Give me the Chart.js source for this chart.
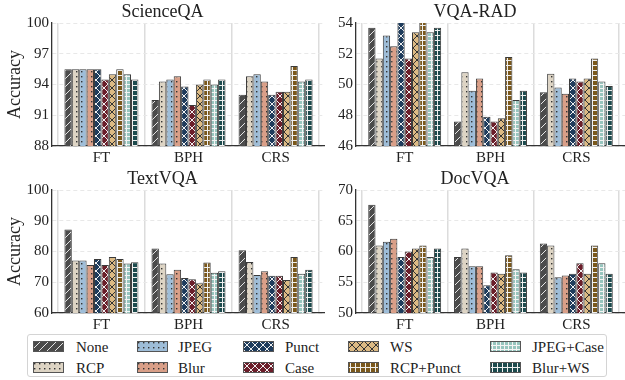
<!DOCTYPE html>
<html>
<head>
<meta charset="utf-8">
<script src="https://cdn.jsdelivr.net/npm/chart.js@4.4.1/dist/chart.umd.min.js"></script>
<style>
  body { margin: 0; background: #fff; width: 625px; height: 380px; overflow: hidden; position: relative; font-family: 'Liberation Serif', serif; }
  canvas.panel { position: absolute; }
  #legend { position: absolute; left: 27px; top: 334px; width: 580px; height: 43px; border: 1px solid #d4d4d4; border-radius: 3px; box-sizing: border-box; background: #fff; }
  .lab { position: absolute; font-family: 'Liberation Serif', serif; font-size: 15px; line-height: 16px; color: #222; white-space: nowrap; }
  .sw { position: absolute; }
</style>
</head>
<body>
<canvas id="c0" class="panel" width="325" height="165" style="left:0;top:0"></canvas>
<canvas id="c1" class="panel" width="300" height="165" style="left:325px;top:0"></canvas>
<canvas id="c2" class="panel" width="325" height="165" style="left:0;top:167px"></canvas>
<canvas id="c3" class="panel" width="300" height="165" style="left:325px;top:167px"></canvas>
<div id="legend"></div>
<script>
"use strict";

// kategorier och serier
const categories = ['FT', 'BPH', 'CRS'];
const series = ['None', 'RCP', 'JPEG', 'Blur', 'Punct', 'Case', 'WS', 'RCP+Punct', 'JPEG+Case', 'Blur+WS'];

// ScienceQA
const scienceFT  = [95.5, 95.5, 95.5, 95.5, 95.5, 94.5, 95.0, 95.5, 95.0, 94.5];
const scienceBPH = [92.5, 94.3, 94.5, 94.8, 93.8, 92.0, 94.0, 94.5, 94.0, 94.5];
const scienceCRS = [93.0, 94.8, 95.0, 94.3, 93.0, 93.3, 93.3, 95.8, 94.3, 94.5];
const scienceTicks = [88, 91, 94, 97, 100];

// VQA-RAD
const radFT  = [53.7, 51.7, 53.2, 52.5, 54.2, 51.7, 53.4, 54.2, 53.4, 53.7];
const radBPH = [47.6, 50.8, 49.6, 50.4, 47.9, 47.6, 47.8, 51.8, 49.0, 49.6];
const radCRS = [49.5, 50.7, 49.8, 49.4, 50.4, 50.2, 50.4, 51.7, 50.2, 49.9];
const radTicks = [46, 48, 50, 52, 54];

// TextVQA
const textFT  = [87.2, 77.1, 77.1, 75.6, 77.6, 75.6, 78.2, 77.6, 76.1, 76.5];
const textBPH = [81.0, 76.1, 72.6, 74.1, 71.4, 71.0, 69.7, 76.4, 73.1, 73.6];
const textCRS = [80.4, 76.6, 72.4, 73.6, 72.1, 72.1, 70.7, 78.2, 72.8, 74.1];
const textTicks = [60, 70, 80, 90, 100];

// DocVQA
const docFT  = [67.6, 61.0, 61.6, 62.1, 59.1, 60.0, 60.5, 61.0, 59.1, 60.5];
const docBPH = [59.1, 60.5, 57.6, 57.6, 54.5, 56.6, 56.4, 59.4, 57.1, 56.6];
const docCRS = [61.3, 61.0, 55.8, 56.1, 56.4, 58.1, 56.4, 61.0, 58.1, 56.4];
const docTicks = [50, 55, 60, 65, 70];

// färger och mönster per serie
const colors = ['#4b4b4b', '#ddd4c4', '#9ebdd8', '#d99f88', '#1f3c5c', '#6b1e2a', '#dcba84', '#7a581c', '#97c5be', '#1c4a4d'];
const hatches = ['diag', 'dots', 'dots', 'dots', 'cross', 'cross', 'cross', 'plus', 'grid', 'plus'];
const inks = ['#e6e6e6', '#333', '#333', '#333', '#f0f0f0', '#f0f0f0', '#333', '#f0f0f0', '#f4f4f4', '#f0f0f0'];

const FONT = 'Liberation Serif';
Chart.defaults.font.family = FONT;
Chart.defaults.color = '#222';

function makePattern(bg, kind, fg) {
    const sizes = { diag: 8, dots: 5, cross: 8, plus: 5, grid: 4 };
    const sz = sizes[kind];
    const c = document.createElement('canvas');
    c.width = sz;
    c.height = sz;
    const g = c.getContext('2d');
    g.fillStyle = bg;
    g.fillRect(0, 0, sz, sz);
    g.strokeStyle = fg;
    g.fillStyle = fg;
    g.lineWidth = 1;
    g.beginPath();
    if (kind === 'diag' || kind === 'cross') {
        g.moveTo(-1, sz + 1); g.lineTo(sz + 1, -1);
        if (kind === 'cross') {
            g.moveTo(-1, -1); g.lineTo(sz + 1, sz + 1);
        }
        g.stroke();
    } else if (kind === 'dots') {
        g.fillRect(1, 1, 1.4, 1.4);
    } else {
        g.moveTo(0, 0.5); g.lineTo(sz, 0.5);
        g.moveTo(2.5, 0); g.lineTo(2.5, sz);
        g.stroke();
    }
    return g.createPattern(c, 'repeat');
}

const patterns = series.map((s, i) => makePattern(colors[i], hatches[i], inks[i]));

function makeChart(id, title, rows, ticks, yWidth, showTitle) {
    const datasets = series.map((name, s) => ({
        label: name,
        data: rows.map((r, i) => ({ x: i, y: r[s] })),
        backgroundColor: patterns[s],
        borderColor: '#3a3a3a',
        borderWidth: 1,
        barPercentage: 1,
        categoryPercentage: 0.85,
        clip: 0
    }));

    new Chart(document.getElementById(id), {
        type: 'bar',
        data: { datasets: datasets },
        options: {
            responsive: false,
            animation: false,
            layout: { padding: 0 },
            plugins: {
                legend: { display: false },
                tooltip: { enabled: false },
                title: {
                    display: true,
                    text: title,
                    font: { family: FONT, size: 18, weight: 'normal' },
                    color: '#222',
                    padding: { top: 1.5, bottom: 0 }
                }
            },
            scales: {
                x: {
                    type: 'linear',
                    min: -0.5675,
                    max: 2.5675,
                    offset: false,
                    afterBuildTicks: sc => { sc.ticks = categories.map((c, i) => ({ value: i })); },
                    afterFit: sc => { sc.height = 19; },
                    ticks: {
                        callback: v => categories[v],
                        font: { family: FONT, size: 15 },
                        color: '#222',
                        padding: 3,
                        maxRotation: 0
                    },
                    grid: { color: '#dcdcdc', lineWidth: 1.5, drawTicks: false },
                    border: { color: '#333', width: 1.3 }
                },
                y: {
                    min: ticks[0],
                    max: ticks[ticks.length - 1],
                    afterFit: sc => { sc.width = yWidth; },
                    afterBuildTicks: sc => { sc.ticks = ticks.map(v => ({ value: v })); },
                    ticks: { font: { family: FONT, size: 15 }, color: '#222', padding: 3 },
                    grid: { color: '#e8e8e8', lineWidth: 1, drawTicks: false },
                    border: { color: '#333', width: 1.3, dash: [4, 3] },
                    title: {
                        display: showTitle,
                        text: 'Accuracy',
                        font: { family: FONT, size: 18 },
                        color: '#222',
                        padding: { top: 4, bottom: 0 }
                    }
                }
            }
        }
    });
}

makeChart('c0', 'ScienceQA', [scienceFT, scienceBPH, scienceCRS], scienceTicks, 52, true);
makeChart('c1', 'VQA-RAD', [radFT, radBPH, radCRS], radTicks, 31, false);
makeChart('c2', 'TextVQA', [textFT, textBPH, textCRS], textTicks, 52, true);
makeChart('c3', 'DocVQA', [docFT, docBPH, docCRS], docTicks, 31, false);

// legend, kolumnvis som i originalet
const legendEl = document.getElementById('legend');
const swX = [5, 109, 215, 320, 462];
const txtX = [48, 150, 257, 362, 504];
const rowY = [12, 33];
series.forEach((name, s) => {
    const col = Math.floor(s / 2);
    const row = s % 2;
    const sw = document.createElement('canvas');
    sw.width = 31;
    sw.height = 11;
    sw.className = 'sw';
    sw.style.left = swX[col] + 'px';
    sw.style.top = (rowY[row] - 6) + 'px';
    const g = sw.getContext('2d');
    g.fillStyle = patterns[s];
    g.fillRect(0, 0, 31, 11);
    g.strokeStyle = '#555';
    g.lineWidth = 1;
    g.strokeRect(0.5, 0.5, 30, 10);
    legendEl.appendChild(sw);

    const lab = document.createElement('div');
    lab.className = 'lab';
    lab.textContent = name;
    lab.style.left = txtX[col] + 'px';
    lab.style.top = (rowY[row] - 8) + 'px';
    legendEl.appendChild(lab);
});
</script>
</body>
</html>
